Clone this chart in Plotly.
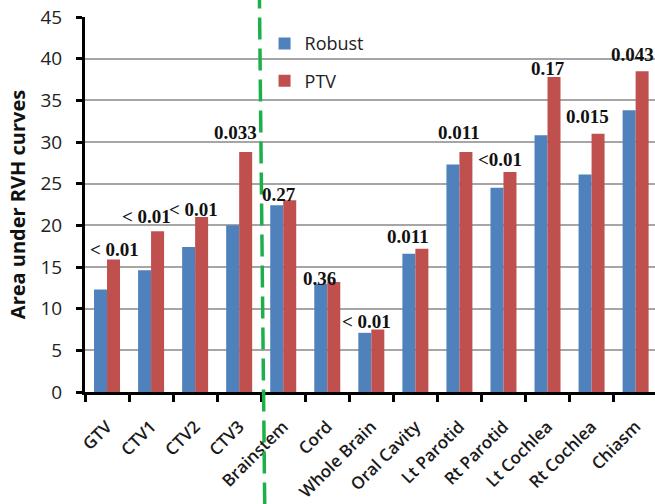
import plotly.graph_objects as go

# Structures evaluated
structures = ["GTV", "CTV1", "CTV2", "CTV3", "Brainstem", "Cord", "Whole Brain",
              "Oral Cavity", "Lt Parotid", "Rt Parotid", "Lt Cochlea", "Rt Cochlea", "Chiasm"]

# Area under RVH curves for each planning approach
robust_auc = [12.3, 14.6, 17.4, 20.0, 22.4, 13.0, 7.1, 16.6, 27.3, 24.5, 30.8, 26.1, 33.8]
ptv_auc = [15.9, 19.3, 21.0, 28.8, 23.0, 13.2, 7.5, 17.2, 28.8, 26.4, 37.8, 31.0, 38.5]

# p-values for the Robust vs PTV comparison
p_values = ["< 0.01", "< 0.01", "< 0.01", "0.033", "0.27", "0.36", "< 0.01",
            "0.011", "0.011", "<0.01", "0.17", "0.015", "0.043"]

# Placement of the p-value labels (height in axis units, horizontal nudge in px)
label_y = [17.05, 21.07, 21.85, 31.1, 23.7, 13.6, 8.5, 18.7, 31.1, 27.85, 38.8, 33.1, 40.5]
label_nudge = [7, -5, -2, -4, -4, -8, -5, -7, 0, -3, 0, -4, -3]

y_ticks = [0, 5, 10, 15, 20, 25, 30, 35, 40, 45]

BLUE = "#4F81BD"
RED = "#C0504D"

fig = go.Figure()
fig.add_trace(go.Bar(x=structures, y=robust_auc, name="Robust",
                     marker=dict(color=BLUE, line=dict(width=0)), legendgroup="a"))
fig.add_trace(go.Bar(x=structures, y=ptv_auc, name="PTV",
                     marker=dict(color=RED, line=dict(width=0)), legendgroup="b"))

for s, txt, ly, dx in zip(structures, p_values, label_y, label_nudge):
    fig.add_annotation(x=s, y=ly, text=f"<b>{txt}</b>", showarrow=False, xshift=dx,
                       yanchor="middle", xanchor="center",
                       font=dict(family="Liberation Serif", size=19, color="#111111"))

# Dashed separator between target volumes and organs at risk
fig.add_shape(type="line", xref="x", yref="paper",
              x0=3.58, y0=-0.30, x1=3.46, y1=1.05,
              line=dict(color="#1DB04A", width=3.5, dash="22px,9px"))

fig.update_layout(
    width=655, height=504,
    margin=dict(l=85, r=0, t=17, b=112),
    paper_bgcolor="white", plot_bgcolor="white",
    barmode="group", bargap=0.41, bargroupgap=0,
    showlegend=True,
    legend=dict(x=0.315, y=0.978, xanchor="left", yanchor="top",
                font=dict(family="Open Sans", size=18, color="#222222"),
                bgcolor="rgba(0,0,0,0)", tracegroupgap=11, traceorder="grouped",
                itemwidth=30),
    font=dict(family="Open Sans", color="#222222"),
)

fig.update_xaxes(
    range=[-0.5, 12.44], tickson="boundaries", ticks="outside", ticklen=7,
    tickwidth=3, tickcolor="black", showline=True, linecolor="black", linewidth=3,
    tickangle=-45, ticklabelstandoff=15,
    tickfont=dict(family="Open Sans", size=17, weight=600, color="#1a1a1a"),
    showgrid=False, zeroline=False,
)

fig.update_yaxes(
    range=[0, 45], tickvals=y_ticks, ticks="outside", ticklen=6, tickwidth=3,
    tickcolor="black", showline=True, linecolor="black", linewidth=3,
    showgrid=True, gridcolor="#A6A6A6", gridwidth=1.5, zeroline=False,
    tickfont=dict(family="Open Sans", size=19, color="#222222"),
    ticklabelstandoff=10,
    title=dict(text="<b>Area under RVH curves</b>", standoff=10,
               font=dict(family="Open Sans", size=20, color="#111111")),
)

fig.write_html("out.html")
